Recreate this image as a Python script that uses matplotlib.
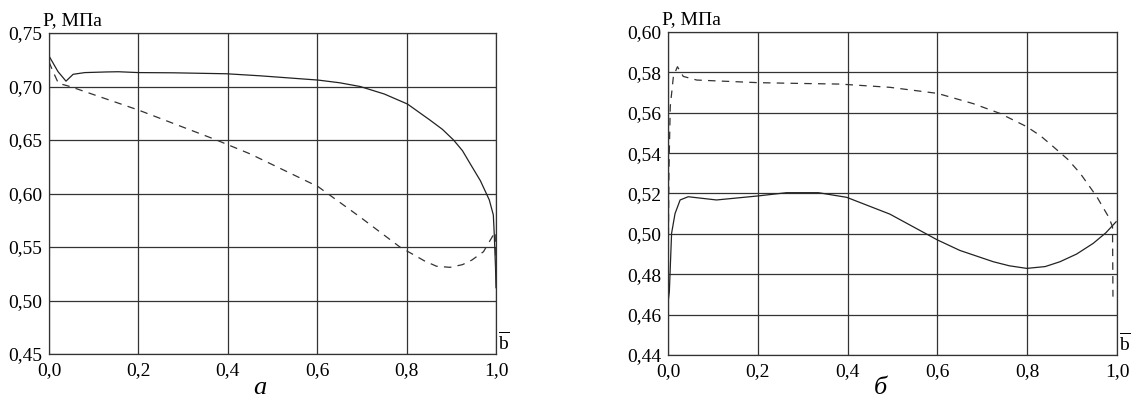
import matplotlib.pyplot as plt

plt.rcParams['font.family'] = ['Liberation Serif', 'DejaVu Serif']
plt.rcParams['mathtext.fontset'] = 'custom'
plt.rcParams['mathtext.rm'] = 'Liberation Serif'

# panel a
a_solid_x = [0.0, 0.02, 0.038, 0.054, 0.08, 0.129, 0.155, 0.2, 0.278, 0.397, 0.472,
             0.602, 0.65, 0.696, 0.75, 0.802, 0.852, 0.88, 0.905, 0.925, 0.942, 0.965,
             0.985, 0.994, 0.996, 0.999, 1.0]
a_solid_y = [0.7285, 0.714, 0.705, 0.7114, 0.713, 0.7136, 0.7138, 0.713, 0.7128, 0.7119, 0.710,
             0.706, 0.7035, 0.700, 0.6930, 0.6836, 0.6687, 0.660, 0.650, 0.640, 0.628, 0.612,
             0.594, 0.580, 0.563, 0.530, 0.512]
a_dash_x = [0.0, 0.009, 0.021, 0.047, 0.2, 0.371, 0.45, 0.602, 0.696, 0.785, 0.802,
            0.84, 0.867, 0.897, 0.925, 0.946, 0.972, 0.988, 0.998, 1.0]
a_dash_y = [0.723, 0.714, 0.703, 0.700, 0.678, 0.6506, 0.637, 0.6064, 0.578, 0.550, 0.546,
            0.537, 0.532, 0.531, 0.5335, 0.5378, 0.5456, 0.557, 0.564, 0.525]

# panel b
b_solid_x = [0.0, 0.003, 0.008, 0.0156, 0.027, 0.045, 0.108, 0.201, 0.264, 0.335, 0.398,
             0.494, 0.600, 0.65, 0.7245, 0.76, 0.799, 0.84, 0.873, 0.91, 0.947, 0.975, 0.998]
b_solid_y = [0.466, 0.4714, 0.5003, 0.510, 0.5168, 0.5184, 0.5168, 0.5188, 0.5204, 0.5204, 0.5181,
             0.5098, 0.497, 0.4918, 0.4862, 0.4842, 0.4829, 0.4838, 0.4862, 0.490, 0.4953, 0.5005, 0.506]
b_dash_x = [0.0, 0.002, 0.005, 0.012, 0.021, 0.034, 0.064, 0.201, 0.3, 0.383, 0.494, 0.600,
            0.68, 0.739, 0.799, 0.83, 0.858, 0.89, 0.918, 0.955, 0.981, 0.990, 0.991]
b_dash_y = [0.472, 0.530, 0.563, 0.578, 0.5828, 0.578, 0.5762, 0.5749, 0.5745, 0.5742, 0.5726, 0.5696,
            0.5645, 0.5597, 0.5531, 0.5485, 0.5432, 0.537, 0.530, 0.5184, 0.5085, 0.5036, 0.4689]

x_ticks = [0.0, 0.2, 0.4, 0.6, 0.8, 1.0]
a_yticks = [0.45, 0.50, 0.55, 0.60, 0.65, 0.70, 0.75]
b_yticks = [0.44, 0.46, 0.48, 0.50, 0.52, 0.54, 0.56, 0.58, 0.60]


def fmt(v, nd):
    return f"{v:.{nd}f}".replace('.', ',')


def panel(ax, sx, sy, dx, dy, yticks):
    ax.plot(sx, sy, color='#222222', lw=0.9, solid_joinstyle='round')
    ax.plot(dx, dy, color='#333333', lw=0.9, ls=(0, (6, 5)))
    ax.set_xlim(0, 1)
    ax.set_ylim(yticks[0], yticks[-1])
    ax.set_xticks(x_ticks)
    ax.set_xticklabels([fmt(v, 1) for v in x_ticks])
    ax.set_yticks(yticks)
    ax.set_yticklabels([fmt(v, 2) for v in yticks])
    ax.grid(True, color='#333333', lw=0.9)
    ax.tick_params(length=0, labelsize=14, pad=5)
    ax.tick_params(axis='x', pad=6)
    for s in ax.spines.values():
        s.set_color('#333333')
        s.set_linewidth(0.9)
    ax.text(-0.014, 1.012, 'P, МПа', transform=ax.transAxes, fontsize=14,
            ha='left', va='bottom')
    ax.text(1.004, 0.0, r'$\overline{\mathrm{b}}$', transform=ax.transAxes,
            fontsize=14, ha='left', va='bottom')


fig = plt.figure(figsize=(11.32, 4.04), dpi=100)
ax1 = fig.add_axes([49 / 1132, 50 / 404, 447 / 1132, 321 / 404])
ax2 = fig.add_axes([668 / 1132, 49 / 404, 449 / 1132, 323 / 404])

panel(ax1, a_solid_x, a_solid_y, a_dash_x, a_dash_y, a_yticks)
panel(ax2, b_solid_x, b_solid_y, b_dash_x, b_dash_y, b_yticks)

fig.text(260 / 1132, 1 - 388 / 404, 'а', fontsize=19, style='italic', ha='center', va='center')
fig.text(880 / 1132, 1 - 388 / 404, 'б', fontsize=19, style='italic', ha='center', va='center')

fig.savefig('out.png', dpi=100)
